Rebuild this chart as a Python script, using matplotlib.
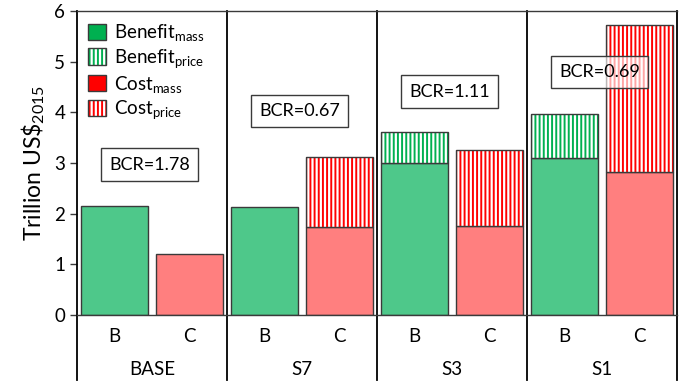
import matplotlib
matplotlib.use("Agg")
import matplotlib.pyplot as plt
from matplotlib.patches import Patch

plt.rcParams['font.family'] = ['Lato', 'DejaVu Sans']
plt.rcParams['mathtext.fontset'] = 'custom'
plt.rcParams['mathtext.rm'] = 'Lato'
plt.rcParams['mathtext.it'] = 'Lato'
plt.rcParams['hatch.linewidth'] = 1.4

# data (trillion US$ 2015)
scenarios = ['BASE', 'S7', 'S3', 'S1']
bar_labels = ['B', 'C']
benefit_mass = [2.15, 2.13, 3.00, 3.10]
benefit_price = [0.0, 0.0, 0.61, 0.86]
cost_mass = [1.21, 1.73, 1.76, 2.82]
cost_price = [0.0, 1.38, 1.49, 2.91]
bcr = ['1.78', '0.67', '1.11', '0.69']
bcr_y = [2.97, 4.03, 4.41, 4.79]

green = '#4EC88A'
red = '#FF7F7F'
green_hatch = '#00B050'
red_hatch = '#FF0000'
edge = '#3a3a3a'
W = 0.9

fig = plt.figure(figsize=(6.8, 3.83), dpi=100)
ax = fig.add_axes([77 / 680, 68 / 383, 600 / 680, 304 / 383])

xb = [2 * i for i in range(len(scenarios))]
xc = [2 * i + 1 for i in range(len(scenarios))]

ax.bar(xb, benefit_mass, W, color=green, edgecolor=edge, linewidth=1)
ax.bar(xc, cost_mass, W, color=red, edgecolor=edge, linewidth=1)
# price parts: hatch in stripe colour, outline drawn on top
ax.bar(xb, benefit_price, W, bottom=benefit_mass, color='white',
       edgecolor=green_hatch, hatch='||||', linewidth=0)
ax.bar(xc, cost_price, W, bottom=cost_mass, color='white',
       edgecolor=red_hatch, hatch='||||', linewidth=0)
for x, b, h in zip(xb, benefit_mass, benefit_price):
    if h > 0:
        ax.bar(x, h, W, bottom=b, fill=False, edgecolor=edge, linewidth=1)
for x, b, h in zip(xc, cost_mass, cost_price):
    if h > 0:
        ax.bar(x, h, W, bottom=b, fill=False, edgecolor=edge, linewidth=1)

for i, (v, y) in enumerate(zip(bcr, bcr_y)):
    ax.text(2 * i + 0.47, y, 'BCR=' + v, ha='center', va='center',
            fontsize=13, zorder=5,
            bbox=dict(boxstyle='square,pad=0.45', fc=(1, 1, 1, 0.65),
                      ec=edge, lw=1))

ax.set_xlim(-0.5, 7.5)
ax.set_ylim(0, 6)
ax.set_yticks(range(7))
ax.tick_params(axis='y', labelsize=13.5, length=5, width=1, color=edge)
ax.set_xticks(range(8))
ax.set_xticklabels(bar_labels * len(scenarios), fontsize=13.5)
ax.tick_params(axis='x', length=0, pad=9)
ax.set_ylabel(r'Trillion US\$$_{2015}$', fontsize=16.5, labelpad=5)

for s in ['left', 'right']:
    ax.spines[s].set_visible(False)
for s in ['top', 'bottom']:
    ax.spines[s].set_color(edge)
    ax.spines[s].set_linewidth(1)

for x in [-0.5, 1.5, 3.5, 5.5, 7.5]:
    ax.axvline(x, ymin=-0.215, ymax=1, color='black', lw=1.3, clip_on=False)

for i, s in enumerate(scenarios):
    ax.text(2 * i + 0.5, -0.178, s, transform=ax.get_xaxis_transform(),
            ha='center', va='center', fontsize=13.5)

handles = [
    Patch(facecolor=green_hatch, edgecolor=edge, linewidth=1),
    (Patch(facecolor='white', edgecolor=green_hatch, hatch='||||', linewidth=0),
     Patch(fill=False, edgecolor=edge, linewidth=1)),
    Patch(facecolor=red_hatch, edgecolor=edge, linewidth=1),
    (Patch(facecolor='white', edgecolor=red_hatch, hatch='||||', linewidth=0),
     Patch(fill=False, edgecolor=edge, linewidth=1)),
]
labels = [r'Benefit$_{\mathrm{mass}}$', r'Benefit$_{\mathrm{price}}$',
          r'Cost$_{\mathrm{mass}}$', r'Cost$_{\mathrm{price}}$']
ax.legend(handles, labels, loc='upper left', frameon=False, fontsize=13.5,
          handlelength=0.95, handleheight=0.95, handletextpad=0.45,
          labelspacing=0.2, borderaxespad=0.3, borderpad=0.3)

fig.savefig('out.png', dpi=100)
